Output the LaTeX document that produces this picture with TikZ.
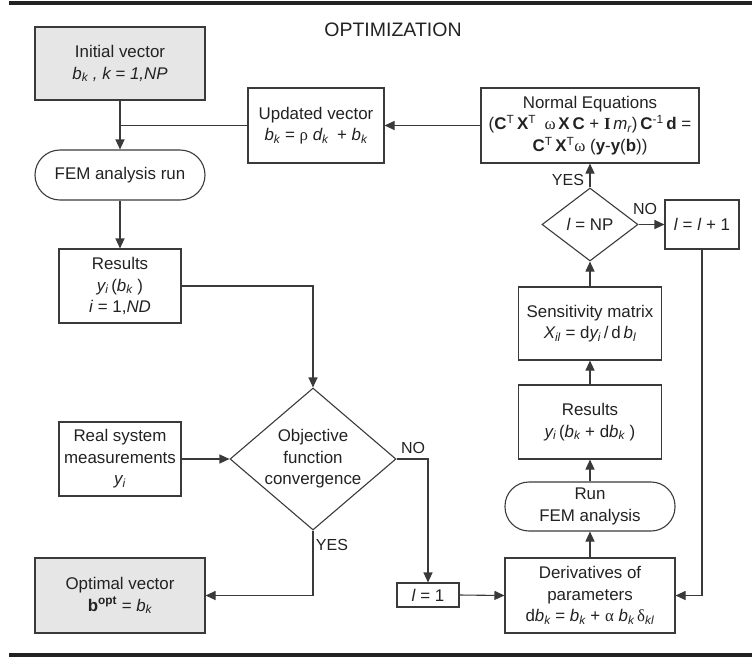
\documentclass[tikz,border=0pt]{standalone}
\usepackage{fontspec}
\setmainfont{Liberation Sans}
\newfontfamily\grk{Liberation Serif}
\usetikzlibrary{arrows.meta,shapes.geometric}
\newcommand\ssub[1]{\textsubscript{#1}}
\newcommand\ssup[1]{\textsuperscript{#1}}
\definecolor{ink}{HTML}{222222}
\definecolor{edge}{HTML}{3A3A3A}
\definecolor{shade}{HTML}{E6E6E6}
\begin{document}
\begin{tikzpicture}[x=1pt,y=-1pt,
  every node/.style={text=ink,font=\fontsize{16.9}{21.5}\selectfont,align=center,inner sep=0pt},
  box/.style={draw=edge,line width=1.1pt,rectangle},
  grey/.style={box,fill=shade},
  term/.style={draw=edge,line width=1.1pt,rectangle,rounded corners=24pt},
  decision/.style={draw=edge,line width=1.1pt,diamond},
  flow/.style={draw=edge,line width=1.1pt,-{Triangle[length=10pt,width=9pt]}},
  link/.style={draw=edge,line width=1.1pt},
  tag/.style={font=\fontsize{16}{19}\selectfont},
  rule/.style={draw=ink,line width=4pt}]
\useasboundingbox (0,0) rectangle (752,659);

% frame rules and heading
\coordinate (rtl) at (9,3);   \coordinate (rtr) at (752,3);
\coordinate (rbl) at (9,655); \coordinate (rbr) at (752,655);
\draw[rule] (rtl) -- (rtr);
\draw[rule] (rbl) -- (rbr);
\node[font=\fontsize{19.5}{23}\selectfont] (title) at (393,30) {OPTIMIZATION};

% left column
\node[grey,minimum width=170pt,minimum height=73pt] (init) at (120,63.5)
  {Initial vector\\ \textit{b\ssub{k} , k = 1,NP}};
\node[term,minimum width=170pt,minimum height=50pt,rounded corners=25pt] (fem) at (120,175)
  {FEM analysis run};
\node[box,minimum width=122pt,minimum height=74pt] (res) at (120,286)
  {Results\\ \textit{y\ssub{i}}\,(\textit{b\ssub{k}} )\\ \textit{i} = 1,\textit{ND}};
\node[box,minimum width=122pt,minimum height=74pt] (real) at (120,459)
  {Real system\\ measurements\\ \textit{y\ssub{i}}};
\node[grey,minimum width=170pt,minimum height=75pt] (opt) at (120,595.5)
  {Optimal vector\\ \textbf{b\ssup{opt}} = \textit{b\ssub{k}}};

% update box
\node[box,minimum width=136pt,minimum height=75pt] (upd) at (316,125.5)
  {Updated vector\\ \textit{b\ssub{k}} = {\grk ρ} \textit{d\ssub{k}}\enspace + \textit{b\ssub{k}}};

% convergence test
\node[decision,minimum width=166pt,minimum height=142pt] (obj) at (313,459) {};
\node (objtxt) at (obj.center) {Objective\\ function\\ convergence};

% loop counter start
\node[box,minimum width=62pt,minimum height=24pt] (l1) at (428,595)
  {\textit{l} = 1};

% right column
\node[box,minimum width=170pt,minimum height=75pt] (der) at (590,595.5)
  {Derivatives of\\ parameters\\ d\textit{b\ssub{k}} = \textit{b\ssub{k}} + {\grk α} \textit{b\ssub{k}}\,{\grk δ}\ssub{\textit{kl}}};
\node[term,minimum width=170pt,minimum height=49pt] (run) at (590,506.5)
  {Run\\ FEM analysis};
\node[box,minimum width=143pt,minimum height=74pt] (res2) at (590,422)
  {Results\\ \textit{y\ssub{i}}\,(\textit{b\ssub{k}} + d\textit{b\ssub{k}} )};
\node[box,minimum width=143pt,minimum height=73pt] (sens) at (590,323.5)
  {Sensitivity matrix\\ \textit{X\ssub{il}} = d\textit{y\ssub{i}}\,/\,d\,\textit{b\ssub{l}}};
\node[decision,minimum width=96pt,minimum height=73pt] (lnp) at (590,224.5) {};
\node (lnptxt) at (lnp.center) {\textit{l} = NP};
\node[box,minimum width=74pt,minimum height=49pt] (linc) at (702,224.5)
  {\textit{l} = \textit{l} + 1};
\node[box,minimum width=218pt,minimum height=75pt] (ne) at (590,125.5)
  {Normal Equations\\
   (\textbf{C}\ssup{T}\,\textbf{X}\ssup{T}\enspace{\grk ω}\,\textbf{X}\,\textbf{C} + {\grk\bfseries I}\,\textit{m\ssub{r}})\,\textbf{C}\ssup{-1}\,\textbf{d} =\\
   \textbf{C}\ssup{T}\,\textbf{X}\ssup{T}{\grk ω} (\textbf{y}-\textbf{y}(\textbf{b}))};

% connectors
\draw[flow] (init.south) -- (fem.north);
\draw[link] (upd.west) -- (init.south |- upd.west);
\draw[flow] (fem.south) -- (res.north);
\draw[flow] (res.east) -| (obj.north);
\draw[flow] (real.east) -- (obj.west);
\draw[flow] (obj.south) |- (opt.east);
\draw[flow] (obj.east) -| (l1.north);
\draw[flow] (l1.east) -- (der.west);
\draw[flow] (der.north) -- (run.south);
\draw[flow] (run.north) -- (res2.south);
\draw[flow] (res2.north) -- (sens.south);
\draw[flow] (sens.north) -- (lnp.south);
\draw[flow] (lnp.north) -- (ne.south);
\draw[flow] (lnp.east) -- (linc.west);
\draw[flow] (linc.south) |- (der.east);
\draw[flow] (ne.west) -- (upd.east);

% branch labels
\node[tag] (yes1) at (332,545) {YES};
\node[tag] (no1) at (413,448) {NO};
\node[tag] (yes2) at (568,180) {YES};
\node[tag] (no2) at (645,209) {NO};
\end{tikzpicture}
\end{document}
